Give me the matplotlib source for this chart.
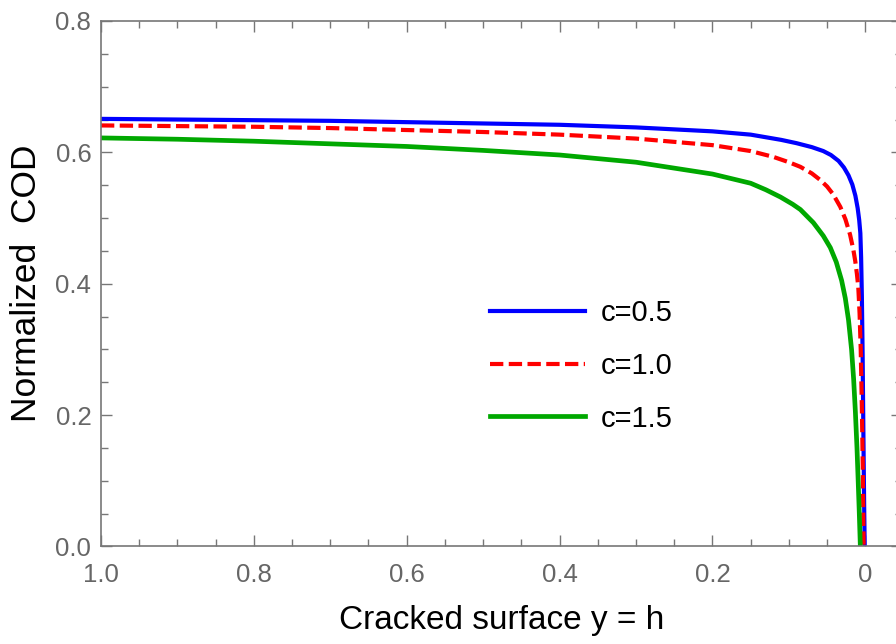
import matplotlib
matplotlib.use("Agg")
import matplotlib.pyplot as plt
from matplotlib.ticker import MultipleLocator, FixedLocator

plt.rcParams['font.family'] = ['Liberation Sans', 'DejaVu Sans']

# values
x_c05 = [1.0, 0.9, 0.8, 0.7, 0.6, 0.5, 0.4, 0.3, 0.2, 0.15, 0.13, 0.11, 0.09, 0.07,
         0.055, 0.045, 0.035, 0.028, 0.022, 0.017, 0.013, 0.010, 0.008, 0.0065,
         0.0055, 0.0045, 0.0035, 0.0025, 0.0015, 0.0008]
y_c05 = [0.651, 0.650, 0.649, 0.648, 0.646, 0.644, 0.642, 0.638, 0.632, 0.627, 0.623,
         0.619, 0.614, 0.608, 0.602, 0.596, 0.587, 0.577, 0.565, 0.551, 0.534, 0.515,
         0.497, 0.477, 0.44, 0.38, 0.29, 0.17, 0.06, 0.0]

x_c10 = [1.0, 0.9, 0.8, 0.7, 0.6, 0.5, 0.4, 0.3, 0.2, 0.15, 0.12, 0.10, 0.085, 0.07,
         0.059, 0.05, 0.042, 0.0327, 0.026, 0.020, 0.0157, 0.0131, 0.011, 0.0092,
         0.0075, 0.006, 0.0045, 0.0033, 0.0022]
y_c10 = [0.641, 0.640, 0.639, 0.637, 0.634, 0.631, 0.627, 0.621, 0.611, 0.602, 0.593,
         0.585, 0.578, 0.568, 0.558, 0.548, 0.536, 0.517, 0.498, 0.475, 0.452, 0.434,
         0.415, 0.395, 0.355, 0.30, 0.21, 0.12, 0.0]

x_c15 = [1.0, 0.9, 0.8, 0.7, 0.6, 0.5, 0.4, 0.3, 0.2, 0.15, 0.13, 0.111, 0.095, 0.085,
         0.068, 0.055, 0.0458, 0.038, 0.031, 0.0262, 0.022, 0.018, 0.0153, 0.013,
         0.0109, 0.0095, 0.008, 0.0065]
y_c15 = [0.622, 0.620, 0.617, 0.613, 0.609, 0.603, 0.596, 0.585, 0.567, 0.553, 0.543,
         0.532, 0.521, 0.513, 0.493, 0.473, 0.455, 0.433, 0.405, 0.378, 0.345, 0.30,
         0.255, 0.205, 0.150, 0.105, 0.055, 0.0]

labels = ['c=0.5', 'c=1.0', 'c=1.5']
x_ticks = [1.0, 0.8, 0.6, 0.4, 0.2, 0.0]
x_ticklabels = ['1.0', '0.8', '0.6', '0.4', '0.2', '0']
y_ticks = [0.0, 0.2, 0.4, 0.6, 0.8]
y_ticklabels = ['0.0', '0.2', '0.4', '0.6', '0.8']

fig = plt.figure(figsize=(8.96, 6.44), dpi=100)
# frame runs past the right edge of the image, as in the original
ax = fig.add_axes([0.1127, 0.1514, 0.894, 0.816])

ax.plot(x_c05, y_c05, color='#0000ff', lw=3.0, label=labels[0])
ax.plot(x_c10, y_c10, color='#ff0000', lw=3.0, dashes=(3.2, 1.3), label=labels[1])
ax.plot(x_c15, y_c15, color='#00a800', lw=3.4, label=labels[2])

ax.set_xlim(1.0, -0.048)
ax.set_ylim(0.0, 0.8)

gray = '#777777'
for s in ax.spines.values():
    s.set_color(gray)
    s.set_linewidth(1.2)

ax.xaxis.set_major_locator(FixedLocator(x_ticks))
ax.set_xticklabels(x_ticklabels)
ax.yaxis.set_major_locator(FixedLocator(y_ticks))
ax.set_yticklabels(y_ticklabels)
ax.xaxis.set_minor_locator(MultipleLocator(0.05))
ax.yaxis.set_minor_locator(MultipleLocator(0.05))
ax.tick_params(which='both', direction='in', top=True, right=True, color=gray,
               width=1.0, labelcolor='#666666', labelsize=18.5)
ax.tick_params(which='major', length=8)
ax.tick_params(which='minor', length=5)
ax.tick_params(axis='x', pad=12)
ax.tick_params(axis='y', pad=7)

ax.set_xlabel('Cracked surface y = h', fontsize=24, labelpad=13)
ax.set_ylabel('Normalized  COD', fontsize=25.5, labelpad=9)

ax.legend(loc='center left', bbox_to_anchor=(0.4856, 0.344), frameon=False,
          fontsize=21, handlelength=3.25, handletextpad=0.55, labelspacing=0.85,
          borderpad=0, borderaxespad=0)

fig.savefig('out.png', dpi=100)
